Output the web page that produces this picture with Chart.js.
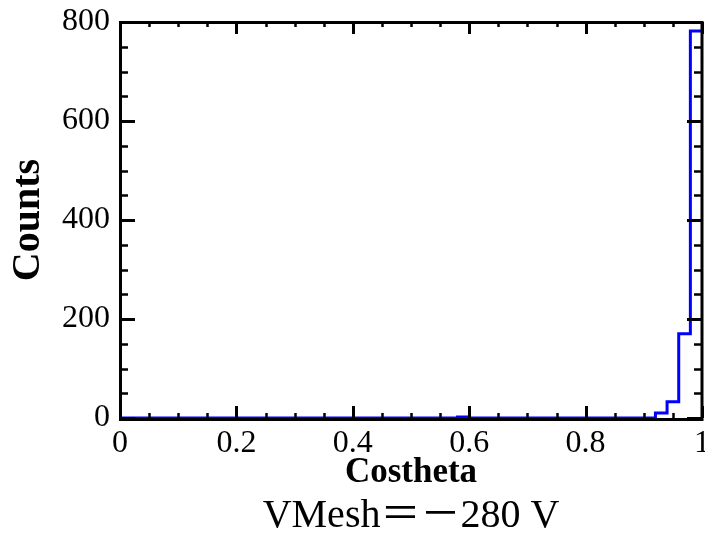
<!DOCTYPE html>
<html><head><meta charset="utf-8">
<script src="https://cdn.jsdelivr.net/npm/chart.js@4/dist/chart.umd.min.js"></script>
<style>html,body{margin:0;padding:0;background:#fff;}#wrap{width:705px;height:536px;}</style>
</head><body><div id="wrap"><canvas id="c" width="705" height="536"></canvas></div>
<script>
// Histogram bin edges (Costheta) and counts per bin
const binEdges = [0,0.02,0.04,0.06,0.08,0.10,0.12,0.14,0.16,0.18,0.20,0.22,0.24,0.26,0.28,0.30,0.32,0.34,0.36,0.38,0.40,0.42,0.44,0.46,0.48,0.50,0.52,0.54,0.56,0.58,0.60,0.62,0.64,0.66,0.68,0.70,0.72,0.74,0.76,0.78,0.80,0.82,0.84,0.86,0.88,0.90,0.92,0.94,0.96,0.98,1.00];
const counts = [0,0,0,0,0,0,0,0,0,0, 0,0,0,0,0,0,0,0,0,0, 0,0,0,0,0,0,0,0,0,2, 0,0,0,0,0,0,0,0,0,0, 0,0,0,0,0,0,10,33,170,782];
const xTickValues = [0,0.2,0.4,0.6,0.8,1];
const yTickValues = [0,200,400,600,800];
const xMinorTicks = [0.05,0.1,0.15,0.25,0.3,0.35,0.45,0.5,0.55,0.65,0.7,0.75,0.85,0.9,0.95];
const yMinorTicks = [50,100,150,250,300,350,450,500,550,650,700,750];
const xTitle = 'Costheta';
const yTitle = 'Counts';
const caption = 'VMesh＝－280 V';

const points = counts.map((c, i) => ({x: binEdges[i], y: c}));
points.push({x: binEdges[binEdges.length - 1], y: counts[counts.length - 1]});

const serif = "'Liberation Serif', 'Times New Roman', serif";

const frameTicks = {
  id: 'frameTicks',
  afterDatasetsDraw(chart) {
    const {ctx, chartArea: a, scales: {x, y}} = chart;
    ctx.save();
    ctx.strokeStyle = '#000';
    const drawY = (v, len, w) => {
      const py = Math.round(y.getPixelForValue(v)) + 0.5;
      ctx.lineWidth = w;
      ctx.beginPath();
      ctx.moveTo(a.left, py); ctx.lineTo(a.left + len, py);
      ctx.moveTo(a.right, py); ctx.lineTo(a.right - len, py);
      ctx.stroke();
    };
    const drawX = (v, len, w) => {
      const px = Math.round(x.getPixelForValue(v)) + 0.5;
      ctx.lineWidth = w;
      ctx.beginPath();
      ctx.moveTo(px, a.bottom); ctx.lineTo(px, a.bottom - len);
      ctx.moveTo(px, a.top); ctx.lineTo(px, a.top + len);
      ctx.stroke();
    };
    yTickValues.forEach(v => drawY(v, 15, 3));
    yMinorTicks.forEach(v => drawY(v, 8, 2.5));
    xTickValues.forEach(v => drawX(v, 12, 3));
    xMinorTicks.forEach(v => drawX(v, 5, 2.5));
    ctx.lineWidth = 3;
    ctx.strokeRect(a.left + 0.5, a.top + 0.5, a.right - a.left - 0.5, a.bottom - a.top + 1);
    ctx.restore();
  }
};

const noPad = s => { s.paddingLeft = 0; s.paddingRight = 0; s.paddingTop = 0; s.paddingBottom = 0; };

new Chart(document.getElementById('c'), {
  type: 'line',
  data: {
    datasets: [{
      data: points,
      stepped: true,
      borderColor: '#0000ff',
      borderWidth: 3,
      pointRadius: 0,
      fill: false,
      tension: 0
    }]
  },
  options: {
    responsive: false,
    devicePixelRatio: 1,
    animation: false,
    layout: {padding: {top: 22, right: 3, left: 0, bottom: 0}},
    plugins: {
      legend: {display: false},
      tooltip: {enabled: false},
      title: {
        display: true,
        text: caption,
        position: 'bottom',
        fullSize: false,
        color: '#000',
        font: {family: "'Liberation Serif', 'Noto Sans CJK SC', serif", size: 40, lineHeight: 1, weight: 'normal'},
        padding: {top: 0, bottom: 0}
      }
    },
    scales: {
      x: {
        type: 'linear',
        min: 0, max: 1,
        grid: {display: false, drawTicks: false},
        border: {display: false},
        afterFit: s => { s.height = 78; noPad(s); },
        afterBuildTicks: s => { s.ticks = xTickValues.map(v => ({value: v})); },
        ticks: {color: '#000', font: {family: serif, size: 32}, padding: 6, maxRotation: 0, autoSkip: false,
                callback: v => String(v)},
        title: {display: true, text: xTitle, color: '#000', font: {family: serif, size: 35, weight: 'bold'}, padding: {top: 0, bottom: 2}}
      },
      y: {
        type: 'linear',
        min: 0, max: 800,
        grid: {display: false, drawTicks: false},
        border: {display: false},
        afterFit: s => { s.width = 120; noPad(s); },
        afterBuildTicks: s => { s.ticks = yTickValues.map(v => ({value: v})); },
        ticks: {color: '#000', font: {family: serif, size: 32}, padding: 10, autoSkip: false,
                callback: v => String(v)},
        title: {display: true, text: yTitle, color: '#000', font: {family: serif, size: 40, weight: 'bold'}, padding: {top: 5, bottom: 0}}
      }
    }
  },
  plugins: [frameTicks]
});
</script>
</body></html>
